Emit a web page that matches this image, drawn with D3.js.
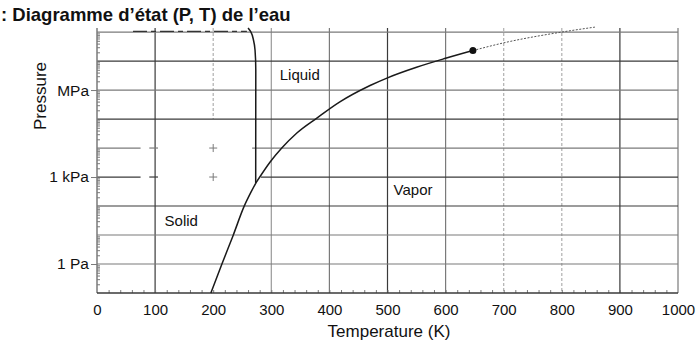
<!DOCTYPE html>
<html>
<head>
<meta charset="utf-8">
<script src="https://cdn.jsdelivr.net/npm/d3@7"></script>
<style>
  body { margin: 0; background: #fff; }
  svg { font-family: 'Liberation Sans', Arial, sans-serif; }
</style>
</head>
<body>
<svg id="chart" width="698" height="351"></svg>
<script>
// Axis ticks
const tempTicks = [0, 100, 200, 300, 400, 500, 600, 700, 800, 900, 1000];
const pressureTicks = [1e6, 1e3, 1];
const pressureTickLabels = ['MPa', '1 kPa', '1 Pa'];
const pressureDecades = [1, 10, 100, 1e3, 1e4, 1e5, 1e6, 1e7, 1e8];

// Phase boundaries (T in K, P in Pa)
const sublimationT = [196, 215, 234, 253, 265, 273.16];
const sublimationP = [0.1, 1, 9.3, 95, 300, 611];

const vaporizationT = [273.16, 298, 318, 344, 379, 418, 470, 500, 550, 600, 647];
const vaporizationP = [611, 3.3e3, 1.0e4, 3.3e4, 1.1e5, 3.9e5, 1.43e6, 2.64e6, 6.1e6, 1.24e7, 2.3e7];

const meltingT = [273.16, 273.3, 272, 269.4, 265, 260];
const meltingP = [611, 4.9e6, 2.4e7, 5.2e7, 1e8, 1.38e8];

const supercriticalT = [647, 699, 800, 857];
const supercriticalP = [2.3e7, 4.2e7, 1e8, 1.48e8];

const highPressureT = [62, 258];
const highPressureP = [1.05e8, 1.05e8];

const criticalT = 647;
const criticalP = 2.3e7;

// Phase labels
const phaseNames = ['Liquid', 'Vapor', 'Solid'];
const phaseT = [349, 544, 145];
const phaseP = [3.3e6, 355, 30];

function drawChart() {
  const svg = d3.select('#chart');

  const x = d3.scaleLinear().domain([0, 1000]).range([97, 678]);
  const y = d3.scaleLog().domain([0.1, Math.pow(10, 8.14)]).range([293, 28]);

  const dark = '#3a3a3a';
  const gray = '#7a7a7a';
  const faint = '#b0b0b0';

  // vertical grid
  const vStyle = (t) => {
    if (t === 0) return null;
    if (t === 200 || t === 700 || t === 800) return { c: faint, d: '3,2' };
    if (t === 100 || t === 500 || t === 900) return { c: dark, d: null };
    if (t === 300) return { c: '#999', d: null };
    return { c: gray, d: null };
  };

  svg
    .append('g')
    .selectAll('line')
    .data(tempTicks.filter((t) => vStyle(t)))
    .enter()
    .append('line')
    .attr('x1', (d) => x(d))
    .attr('x2', (d) => x(d))
    .attr('y1', y.range()[1])
    .attr('y2', (d) => (d === 200 ? y(1e5) : y.range()[0]))
    .attr('stroke', (d) => vStyle(d).c)
    .attr('stroke-dasharray', (d) => vStyle(d).d)
    .attr('stroke-width', 1.2);

  // horizontal grid, some lines interrupted in the solid region
  const hStyle = (p) => (p === 1e8 || p === 1e6 || p === 1e4 || p === 10 || p === 1 ? gray : dark);
  const hSegments = [];
  pressureDecades.forEach((p) => {
    if (p === 1e3) {
      hSegments.push([p, 0, 75], [p, 90, 105], [p, 282, 1000]);
    } else if (p === 1e4) {
      hSegments.push([p, 0, 75], [p, 90, 105], [p, 267, 1000]);
    } else {
      hSegments.push([p, 0, 1000]);
    }
  });

  svg
    .append('g')
    .selectAll('line')
    .data(hSegments)
    .enter()
    .append('line')
    .attr('x1', (d) => x(d[1]))
    .attr('x2', (d) => x(d[2]))
    .attr('y1', (d) => y(d[0]))
    .attr('y2', (d) => y(d[0]))
    .attr('stroke', (d) => hStyle(d[0]))
    .attr('stroke-width', 1.2);

  // small crosses where the grid is erased
  const crosses = svg.append('g').attr('stroke', gray).attr('stroke-width', 1);
  [1e4, 1e3].forEach((p) => {
    crosses.append('line')
      .attr('x1', x(200) - 4).attr('x2', x(200) + 4)
      .attr('y1', y(p)).attr('y2', y(p));
    crosses.append('line')
      .attr('x1', x(200)).attr('x2', x(200))
      .attr('y1', y(p) - 4).attr('y2', y(p) + 4);
  });

  // axes
  const yAxis = d3
    .axisLeft(y)
    .tickValues(pressureTicks)
    .tickFormat((d, i) => pressureTickLabels[i])
    .tickSize(6)
    .tickPadding(2);

  const gy = svg.append('g').attr('transform', `translate(${x(0)},0)`).call(yAxis);
  gy.select('.domain').remove();
  gy.selectAll('line').attr('stroke', gray);
  gy.selectAll('text').attr('font-size', 15.5).attr('fill', '#111').attr('font-family', null);

  const minorP = [];
  for (let k = -1; k < 8; k++) {
    for (let m = 2; m < 10; m++) minorP.push(m * Math.pow(10, k));
  }
  const gyMinor = svg
    .append('g')
    .attr('transform', `translate(${x(0)},0)`)
    .call(d3.axisRight(y).tickValues(minorP).tickSize(3).tickFormat(''));
  gyMinor.select('.domain').remove();
  gyMinor.selectAll('line').attr('stroke', gray);

  const xAxis = d3
    .axisBottom(x)
    .tickValues(tempTicks)
    .tickFormat(d3.format('d'))
    .tickSize(0)
    .tickPadding(11);
  const gx = svg.append('g').attr('transform', `translate(0,${y.range()[0]})`).call(xAxis);
  gx.select('.domain').remove();
  gx.selectAll('text').attr('font-size', 15).attr('fill', '#111').attr('font-family', null);

  const gxMinor = svg
    .append('g')
    .attr('transform', `translate(0,${y.range()[0]})`)
    .call(d3.axisTop(x).tickValues(d3.range(20, 1000, 20)).tickSize(3).tickFormat(''));
  gxMinor.select('.domain').remove();
  gxMinor.selectAll('line').attr('stroke', gray);

  // axis lines
  svg.append('line')
    .attr('x1', x(0)).attr('x2', x(0))
    .attr('y1', y.range()[1]).attr('y2', y.range()[0])
    .attr('stroke', gray).attr('stroke-width', 1.5);
  svg.append('line')
    .attr('x1', x(0)).attr('x2', x(1000))
    .attr('y1', y.range()[0]).attr('y2', y.range()[0])
    .attr('stroke', dark).attr('stroke-width', 1.5);

  // phase boundaries
  const zip = (a, b) => a.map((v, i) => [v, b[i]]);

  const lineX = d3
    .line()
    .x((d) => x(d[0]))
    .y((d) => y(d[1]))
    .curve(d3.curveMonotoneX);

  const lineY = d3
    .line()
    .x((d) => x(d[0]))
    .y((d) => y(d[1]))
    .curve(d3.curveMonotoneY);

  svg.append('path')
    .datum(zip(highPressureT, highPressureP))
    .attr('d', lineX)
    .attr('fill', 'none')
    .attr('stroke', '#333')
    .attr('stroke-width', 1.3)
    .attr('stroke-dasharray', '14,4,5,4');

  [zip(sublimationT, sublimationP), zip(vaporizationT, vaporizationP)].forEach((pts) => {
    svg.append('path')
      .datum(pts)
      .attr('d', lineX)
      .attr('fill', 'none')
      .attr('stroke', '#1a1a1a')
      .attr('stroke-width', 1.5);
  });

  svg.append('path')
    .datum(zip(meltingT, meltingP).reverse())
    .attr('d', lineY)
    .attr('fill', 'none')
    .attr('stroke', '#1a1a1a')
    .attr('stroke-width', 1.5);

  svg.append('path')
    .datum(zip(supercriticalT, supercriticalP))
    .attr('d', lineX)
    .attr('fill', 'none')
    .attr('stroke', '#555')
    .attr('stroke-width', 1)
    .attr('stroke-dasharray', '2,1.5');

  svg.append('circle')
    .attr('cx', x(criticalT))
    .attr('cy', y(criticalP))
    .attr('r', 3.5)
    .attr('fill', '#111');

  // phase labels
  svg.append('g')
    .selectAll('text')
    .data(phaseNames)
    .enter()
    .append('text')
    .attr('x', (d, i) => x(phaseT[i]))
    .attr('y', (d, i) => y(phaseP[i]))
    .attr('dy', '0.35em')
    .attr('text-anchor', 'middle')
    .attr('font-size', 15)
    .attr('fill', '#111')
    .text((d) => d);

  // titles
  svg.append('text')
    .attr('x', 1)
    .attr('y', 21)
    .attr('font-size', 18.5)
    .attr('font-weight', 'bold')
    .attr('fill', '#111')
    .text(': Diagramme d’état (P, T) de l’eau');

  svg.append('text')
    .attr('text-anchor', 'middle')
    .attr('x', 389)
    .attr('y', 337)
    .attr('font-size', 17)
    .attr('fill', '#111')
    .text('Temperature (K)');

  svg.append('text')
    .attr('text-anchor', 'middle')
    .attr('transform', 'translate(46,96) rotate(-90)')
    .attr('font-size', 17)
    .attr('fill', '#111')
    .text('Pressure');
}

drawChart();
</script>
</body>
</html>
